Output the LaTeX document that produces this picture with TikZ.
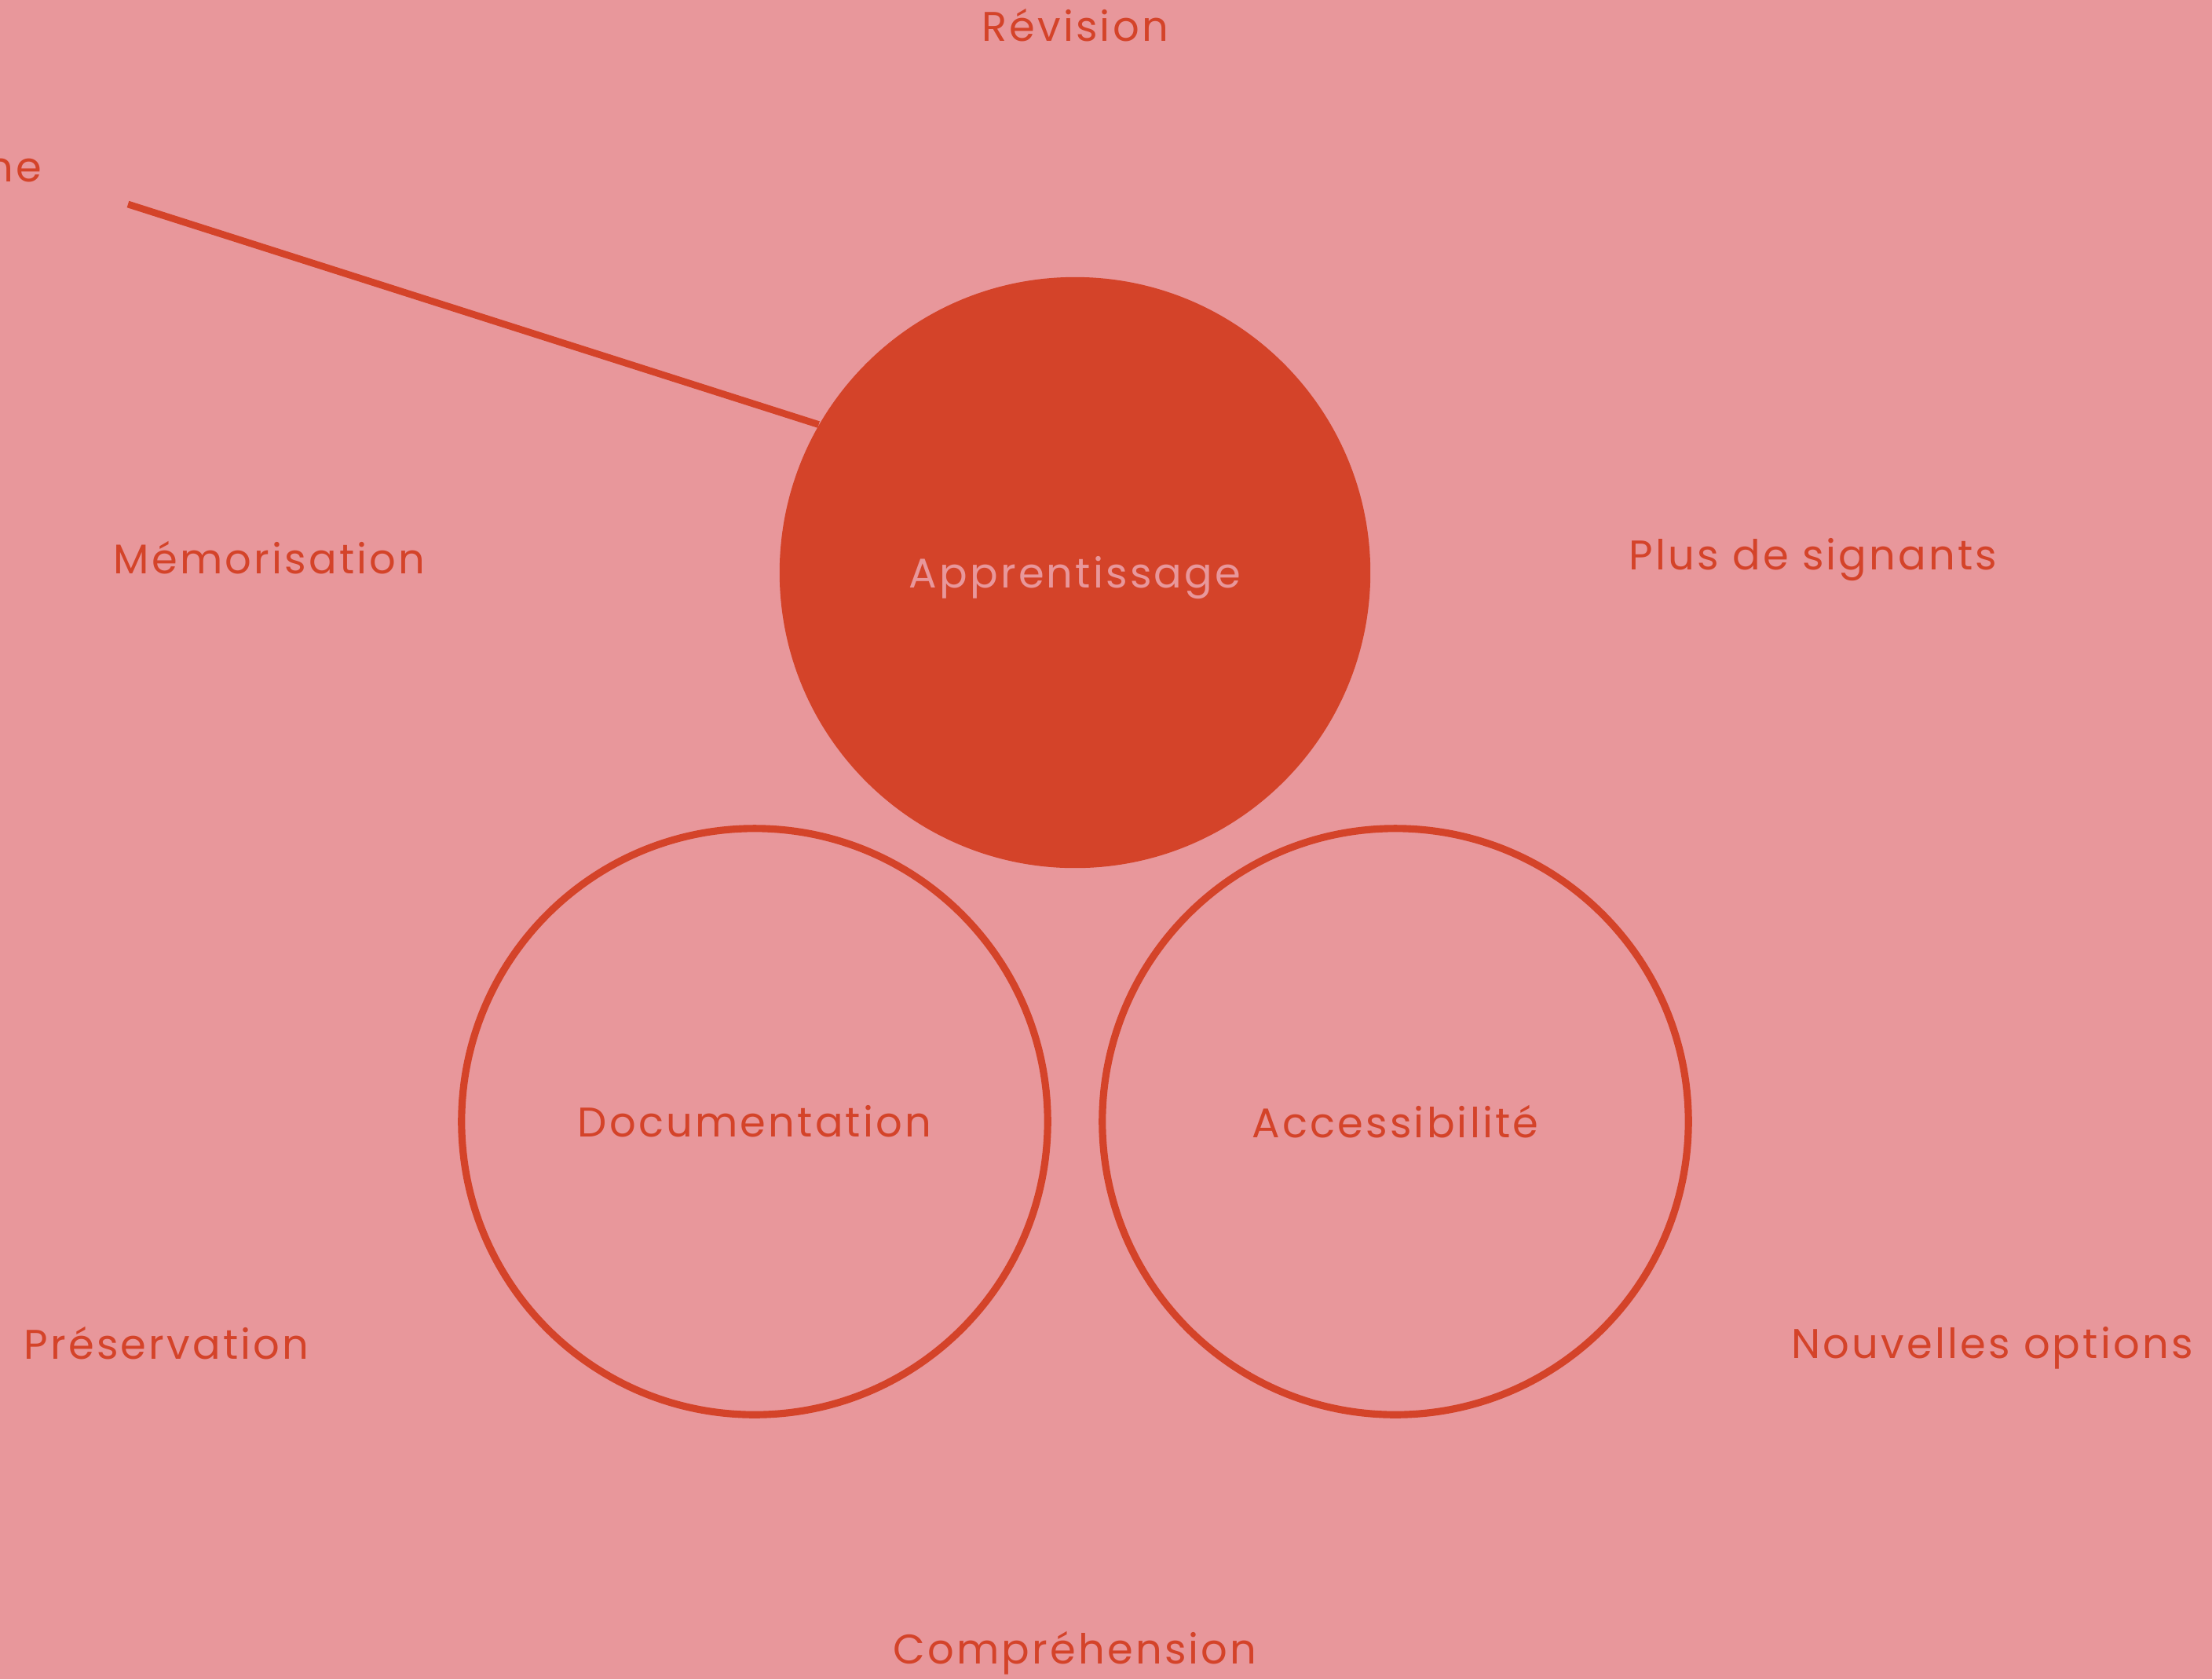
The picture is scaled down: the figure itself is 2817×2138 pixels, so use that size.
\documentclass[tikz,border=0pt]{standalone}
\usepackage{fontspec}
\setmainfont[LetterSpace=6]{Poppins}
\definecolor{bgpink}{HTML}{E8979B}
\definecolor{redc}{HTML}{D44329}
\begin{document}
\begin{tikzpicture}[x=0.01cm,y=-0.01cm,
  lbl/.style={text=redc,font=\fontsize{15}{18}\selectfont,inner sep=0pt},
  bigc/.style={circle,inner sep=0pt,minimum size=7.46cm},
  linec/.style={draw=redc,line width=2.5pt}]
\fill[bgpink] (0,0) rectangle (2817,2138);
\useasboundingbox (0,0) rectangle (2817,2138);
\node[bigc,minimum size=7.52cm,fill=redc,text=bgpink,font=\fontsize{15}{18}\selectfont] (app) at (1369,729) {};
\node[text=bgpink,font=\fontsize{15}{18}\selectfont,inner sep=0pt] (applbl) at (1369,736) {Apprentissage};
\node[bigc,draw=redc,line width=2.6pt,text=redc,font=\fontsize{15}{18}\selectfont] (doc) at (961,1428) {Documentation};
\node[bigc,draw=redc,line width=2.6pt,text=redc,font=\fontsize{15}{18}\selectfont] (acc) at (1777,1428) {Accessibilité};
\node[lbl] (rev) at (1369,32) {Révision};
\node[lbl,anchor=east] (ne) at (54,217) {ne};
\node[lbl] (mem) at (343,710) {Mémorisation};
\node[lbl] (plus) at (2309,713) {Plus de signants};
\node[lbl] (pres) at (212,1710) {Préservation};
\node[lbl] (nouv) at (2537,1716) {Nouvelles options};
\node[lbl] (comp) at (1369,2105) {Compréhension};
\coordinate (lstart) at (163,260);
\draw[linec] (lstart) -- (app.150.5);
\end{tikzpicture}
\end{document}
